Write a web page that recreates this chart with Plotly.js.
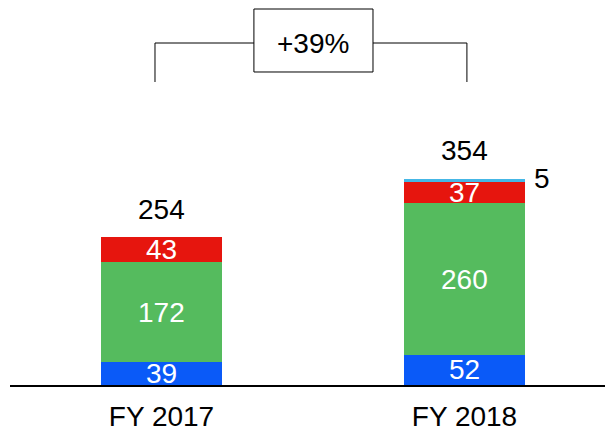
<!DOCTYPE html>
<html>
<head>
<meta charset="utf-8">
<script src="https://cdn.plot.ly/plotly-3.0.1.min.js"></script>
<style>html,body{margin:0;padding:0;background:#fff;}#chart{width:605px;height:432px;}</style>
</head>
<body>
<div id="chart"></div>
<script>
const categories = ["FY 2017", "FY 2018"];
const seriesBlue = [39, 52];
const seriesGreen = [172, 260];
const seriesRed = [43, 37];
const seriesLightBlue = [0, 5];
const totals = [254, 354];
const growthLabel = "+39%";

const colors = {blue: "#0A5AF8", green: "#55BB5E", red: "#E6150E", light: "#45B7E6"};
const FONT = "Liberation Sans, Arial, sans-serif";
const FS = 28;

function bar(name, y, color) {
  return {type: "bar", name: name, x: categories, y: y, width: 0.4,
    marker: {color: color, line: {width: 0}}, hoverinfo: "skip"};
}
const data = [
  bar("blue", seriesBlue, colors.blue),
  bar("green", seriesGreen, colors.green),
  bar("red", seriesRed, colors.red),
  bar("light", seriesLightBlue, colors.light)
];

const annotations = [];
const inner = [seriesBlue, seriesGreen, seriesRed];
categories.forEach((c, i) => {
  let base = 0;
  inner.forEach(s => {
    annotations.push({x: c, y: base + s[i] / 2, xref: "x", yref: "y", text: String(s[i]),
      showarrow: false, font: {family: FONT, size: FS, color: "#ffffff"}, yanchor: "middle"});
    base += s[i];
  });
  if (seriesLightBlue[i] > 0) {
    annotations.push({x: c, y: base + seriesLightBlue[i] / 2, xref: "x", yref: "y",
      text: String(seriesLightBlue[i]), showarrow: false, xshift: 77, yshift: 2,
      font: {family: FONT, size: FS, color: "#000"}, yanchor: "middle"});
  }
  annotations.push({x: c, y: totals[i], xref: "x", yref: "y", text: String(totals[i]),
    showarrow: false, yshift: 28, yanchor: "middle",
    font: {family: FONT, size: FS, color: "#000"}});
});
annotations.push({x: 0.5, y: 0.888, xref: "x", yref: "paper", text: growthLabel, showarrow: false,
  font: {family: FONT, size: FS, color: "#000"}, yanchor: "middle"});

const ln = {color: "#000", width: 1};
const shapes = [
  {type: "line", xref: "x", yref: "paper", x0: -0.0215, x1: 0.305, y0: 0.8883, y1: 0.8883, line: ln},
  {type: "line", xref: "x", yref: "paper", x0: 0.698, x1: 1.008, y0: 0.8883, y1: 0.8883, line: ln},
  {type: "line", xref: "x", yref: "paper", x0: -0.0215, x1: -0.0215, y0: 0.8883, y1: 0.787, line: ln},
  {type: "line", xref: "x", yref: "paper", x0: 1.008, x1: 1.008, y0: 0.8883, y1: 0.787, line: ln},
  {type: "rect", xref: "x", yref: "paper", x0: 0.305, x1: 0.698, y0: 0.813, y1: 0.9766,
    line: ln, fillcolor: "#ffffff", layer: "below"}
];

const layout = {
  width: 605, height: 432,
  margin: {l: 10, r: 0, t: 0, b: 47, pad: 0},
  paper_bgcolor: "#fff", plot_bgcolor: "#fff",
  barmode: "stack", showlegend: false,
  font: {family: FONT, size: FS, color: "#000"},
  xaxis: {type: "category", range: [-0.5, 1.4637], showline: true, linecolor: "#000", linewidth: 2,
    ticks: "", showgrid: false, zeroline: false, fixedrange: true, ticklabelstandoff: 5,
    tickfont: {family: FONT, size: FS, color: "#000"}},
  yaxis: {range: [0, 661.5], visible: false, showgrid: false, zeroline: false, fixedrange: true},
  annotations: annotations,
  shapes: shapes
};
Plotly.newPlot("chart", data, layout, {staticPlot: true, displayModeBar: false});
</script>
</body>
</html>
